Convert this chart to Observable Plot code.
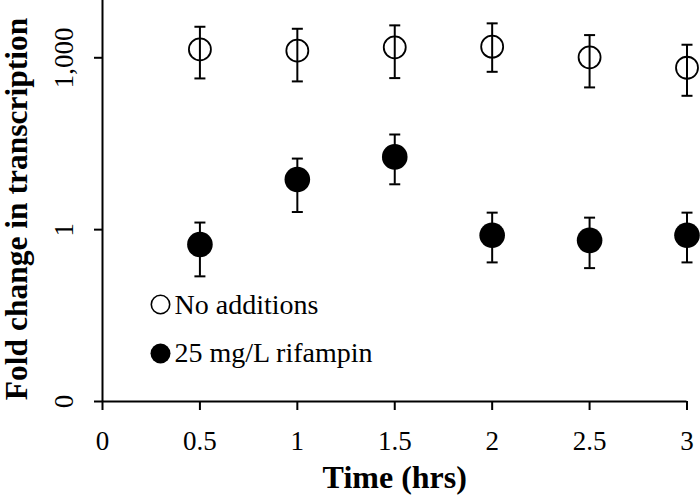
<!DOCTYPE html>
<html><head><meta charset="utf-8">
<script src="https://cdn.jsdelivr.net/npm/d3@7"></script>
<script src="https://cdn.jsdelivr.net/npm/@observablehq/plot@0.6"></script>
<style>body{margin:0;background:#fff}</style>
</head><body><div id="chart"></div>
<script>
const times = [0.5, 1, 1.5, 2, 2.5, 3];
const noAdd = [1400, 1330, 1520, 1560, 1020, 670];
const noAddHi = [3480, 3210, 3680, 3990, 2490, 1690];
const noAddLo = [436, 387, 442, 569, 304, 217];
const rif = [0.55, 7.5, 18.6, 0.80, 0.65, 0.80];
const rifHi = [1.33, 17.4, 45.8, 1.98, 1.62, 1.98];
const rifLo = [0.153, 2.03, 6.19, 0.268, 0.213, 0.268];
const xTicks = [0, 0.5, 1, 1.5, 2, 2.5, 3];
const xTickLabels = ["0", "0.5", "1", "1.5", "2", "2.5", "3"];
const yTicks = [0.001, 1, 1000];
const yTickLabels = ["0", "1", "1,000"];
const seriesNames = ["No additions", "25 mg/L rifampin"];
const xTitle = "Time (hrs)";
const yTitle = "Fold change in transcription";

const rowsA = times.map((t, i) => ({t, v: noAdd[i], hi: noAddHi[i], lo: noAddLo[i]}));
const rowsB = times.map((t, i) => ({t, v: rif[i], hi: rifHi[i], lo: rifLo[i]}));
const all = rowsA.concat(rowsB);

const cap = {draw(ctx, size) { const r = Math.sqrt(size / Math.PI); ctx.moveTo(-r, 0); ctx.lineTo(r, 0); }};

const chart = Plot.plot({
  width: 700, height: 499,
  marginLeft: 102, marginRight: 13.5, marginTop: 0, marginBottom: 98,
  x: {domain: [0, 3]},
  y: {type: "log", domain: [0.001, 10000]},
  style: {fontFamily: "'Liberation Serif', 'Times New Roman', serif", fontSize: "27px", background: "white", color: "black"},
  marks: [
    Plot.axisX({ticks: xTicks, tickFormat: d => xTickLabels[xTicks.indexOf(d)], tickSize: 9, tickPadding: 20.5, fontSize: 27, strokeWidth: 2, label: null}),
    Plot.axisY({ticks: yTicks, tickFormat: d => yTickLabels[yTicks.indexOf(d)], tickSize: 8, tickPadding: 22, tickRotate: -90, fontSize: 27, strokeWidth: 2, label: null}),
    Plot.ruleX([0], {strokeWidth: 2}),
    Plot.ruleY([0.001], {strokeWidth: 2}),
    Plot.ruleX(all, {x: "t", y1: "lo", y2: "hi", stroke: "black", strokeWidth: 2}),
    Plot.dot(all, {x: "t", y: "hi", symbol: cap, r: 5.5, stroke: "black", strokeWidth: 2, fill: "none"}),
    Plot.dot(all, {x: "t", y: "lo", symbol: cap, r: 5.5, stroke: "black", strokeWidth: 2, fill: "none"}),
    Plot.dot(rowsA, {x: "t", y: "v", r: 11, stroke: "black", strokeWidth: 1.8, fill: "none"}),
    Plot.dot(rowsB, {x: "t", y: "v", r: 12.8, fill: "black", stroke: "none"}),
    Plot.dot([seriesNames[0]], {frameAnchor: "top-left", dx: 58, dy: 304, r: 9.2, stroke: "black", strokeWidth: 1.6, fill: "none"}),
    Plot.dot([seriesNames[1]], {frameAnchor: "top-left", dx: 58, dy: 353, r: 10, fill: "black", stroke: "none"}),
    Plot.text([seriesNames[0]], {frameAnchor: "top-left", dx: 72, dy: 313, textAnchor: "start", lineAnchor: "bottom", fontSize: 28}),
    Plot.text([seriesNames[1]], {frameAnchor: "top-left", dx: 72, dy: 361.5, textAnchor: "start", lineAnchor: "bottom", fontSize: 28}),
    Plot.text([yTitle], {frameAnchor: "left", rotate: -90, dx: -76, dy: 8, textAnchor: "middle", lineAnchor: "bottom", fontWeight: "bold", fontSize: 31.5}),
    Plot.text([xTitle], {frameAnchor: "bottom", dy: 86, textAnchor: "middle", lineAnchor: "bottom", fontWeight: "bold", fontSize: 32})
  ]
});
document.getElementById("chart").appendChild(chart);
</script>
</body></html>
